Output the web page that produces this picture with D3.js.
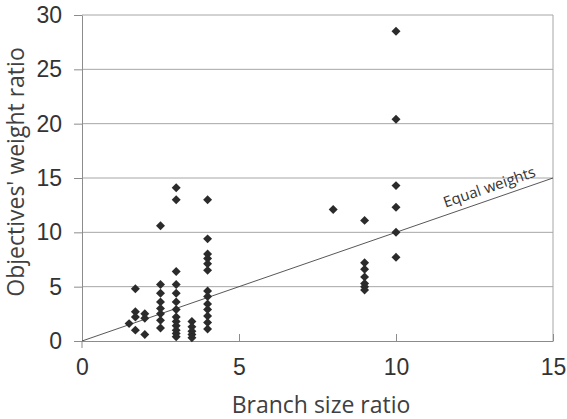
<!DOCTYPE html>
<html>
<head>
<meta charset="utf-8">
<script src="https://cdn.jsdelivr.net/npm/d3@7"></script>
<style>
  body { margin: 0; background: #fff; }
  svg { display: block; }
</style>
</head>
<body>
<div id="chart"></div>
<script>
// 데이터: 가지 크기 비율(x), 목적 가중치 비율(y)
const branchRatio = [
  1.5, 1.7, 1.7, 1.7, 1.7, 2, 2, 2,
  2.5, 2.5, 2.5, 2.5, 2.5, 2.5, 2.5, 2.5,
  3, 3, 3, 3, 3, 3, 3, 3, 3, 3, 3, 3, 3,
  3.5, 3.5, 3.5, 3.5, 3.5,
  4, 4, 4, 4, 4, 4, 4, 4, 4, 4, 4, 4, 4,
  8,
  9, 9, 9, 9, 9, 9, 9,
  10, 10, 10, 10, 10, 10
];
const weightRatio = [
  1.6, 4.8, 2.7, 2.2, 1.0, 2.5, 2.1, 0.6,
  10.6, 5.2, 4.4, 3.6, 3.0, 2.5, 1.9, 1.2,
  14.1, 13.0, 6.4, 5.2, 4.4, 3.6, 2.9, 2.2, 1.8, 1.4, 1.0, 0.7, 0.4,
  1.8, 1.3, 0.9, 0.6, 0.3,
  13.0, 9.4, 8.0, 7.6, 7.1, 6.5, 4.6, 4.1, 3.4, 2.9, 2.3, 1.7, 1.1,
  12.1,
  11.1, 7.2, 6.6, 5.9, 5.3, 5.0, 4.7,
  28.5, 20.4, 14.3, 12.3, 10.0, 7.7
];
const xTicks = [0, 5, 10, 15];
const yTicks = [0, 5, 10, 15, 20, 25, 30];
const equalLine = [0, 15];

const points = branchRatio.map((d, i) => ({ x: d, y: weightRatio[i] }));

const W = 567, H = 419;
const margin = { top: 15, right: 14, bottom: 78, left: 82 },
  width = W - margin.left - margin.right,
  height = H - margin.top - margin.bottom;

const svg = d3.select("#chart").append("svg")
  .attr("width", W).attr("height", H);

const g = svg.append("g")
  .attr("transform", `translate(${margin.left},${margin.top})`);

const x = d3.scaleLinear().domain([0, 15]).range([0, width]);
const y = d3.scaleLinear().domain([0, 30]).range([height, 0]);

// 격자선
g.selectAll(".grid")
  .data(yTicks.filter((d) => d > 0))
  .enter().append("line")
  .attr("x1", 0).attr("x2", width)
  .attr("y1", (d) => y(d)).attr("y2", (d) => y(d))
  .attr("stroke", "#a6a6a6").attr("stroke-width", 1);

// 오른쪽 테두리
g.append("line")
  .attr("x1", width).attr("x2", width)
  .attr("y1", 0).attr("y2", height)
  .attr("stroke", "#a6a6a6");

// x축
const xAxis = g.append("g")
  .attr("transform", `translate(0,${height})`)
  .call(d3.axisBottom(x).tickValues(xTicks).tickSize(-7).tickSizeOuter(0).tickPadding(18));
xAxis.select(".domain").attr("stroke", "#8c8c8c");
xAxis.selectAll(".tick line").attr("stroke", "#8c8c8c");
xAxis.selectAll("text")
  .attr("font-family", "'Liberation Sans', Arial, sans-serif")
  .attr("font-size", 23).attr("fill", "#333");

// y축
const yAxis = g.append("g")
  .call(d3.axisLeft(y).tickValues(yTicks).tickSize(8).tickSizeOuter(0).tickPadding(12));
yAxis.select(".domain").attr("stroke", "#8c8c8c");
yAxis.selectAll(".tick line").attr("stroke", "#8c8c8c");
yAxis.selectAll("text")
  .attr("font-family", "'Liberation Sans', Arial, sans-serif")
  .attr("font-size", 23).attr("fill", "#333");
g.append("line")
  .attr("x1", 0).attr("x2", 0)
  .attr("y1", height).attr("y2", height + 7)
  .attr("stroke", "#8c8c8c");

// 동일 가중치 선
g.append("line")
  .attr("x1", x(equalLine[0])).attr("y1", y(equalLine[0]))
  .attr("x2", x(equalLine[1])).attr("y2", y(equalLine[1]))
  .attr("stroke", "#444").attr("stroke-width", 0.9);

const ang = Math.atan2(y(15) - y(0), x(15) - x(0)) * 180 / Math.PI;
g.append("text")
  .attr("transform", `translate(${x(13.1)},${y(13.1)}) rotate(${ang})`)
  .attr("dy", -7)
  .attr("text-anchor", "middle")
  .attr("font-family", "'Open Sans', sans-serif")
  .attr("font-size", 15)
  .attr("fill", "#333")
  .text("Equal weights");

// 점 (마름모)
const diamond = d3.symbol().type(d3.symbolSquare).size(40);
g.selectAll(".pt")
  .data(points)
  .enter().append("path")
  .attr("class", "pt")
  .attr("d", diamond)
  .attr("transform", (d) => `translate(${x(d.x)},${y(d.y)}) rotate(45)`)
  .attr("fill", "#2b2b2b");

// 축 제목
svg.append("text")
  .attr("x", 321).attr("y", 413)
  .attr("text-anchor", "middle")
  .attr("font-family", "'Open Sans', sans-serif")
  .attr("font-size", 23).attr("fill", "#404040")
  .text("Branch size ratio");

svg.append("text")
  .attr("transform", "translate(24,172) rotate(-90)")
  .attr("text-anchor", "middle")
  .attr("font-family", "'Open Sans', sans-serif")
  .attr("font-size", 23).attr("fill", "#404040")
  .text("Objectives' weight ratio");
</script>
</body>
</html>
